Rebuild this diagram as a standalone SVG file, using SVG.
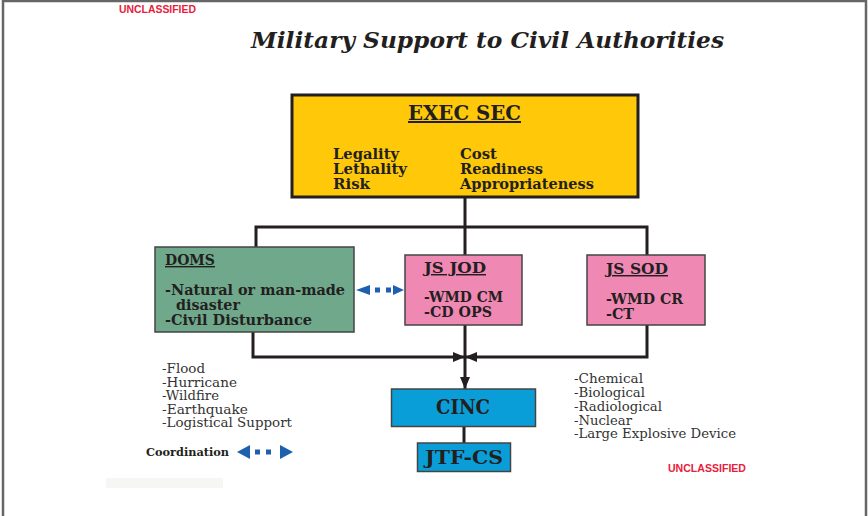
<svg xmlns="http://www.w3.org/2000/svg" width="868" height="516" viewBox="0 0 868 516">
<style>
.b{font-family:"DejaVu Serif","Liberation Serif",serif;font-weight:bold;fill:#231f20}
.r{font-family:"DejaVu Serif","Liberation Serif",serif;fill:#333;font-size:12.2px}
.u{text-decoration:underline}
.cls{font-family:"Liberation Sans",Arial,sans-serif;font-weight:bold;font-size:10px;fill:#e8203c}
.ln{fill:none;stroke:#231f20;stroke-width:3}
.box{stroke:#444;stroke-width:1.5}
.blue{fill:#1f5fb0}
</style>
<defs>
<marker id="ah" viewBox="0 0 12 10" refX="12" refY="5" markerWidth="12" markerHeight="10" markerUnits="userSpaceOnUse" orient="auto">
<path d="M0,0 L12,5 L0,10 Z" fill="#231f20"/>
</marker>
</defs>
<rect x="0" y="0" width="868" height="516" fill="#fff"/>
<path d="M3,516 V1 H866 V516" fill="none" stroke="#666" stroke-width="2.5"/>
<rect x="106" y="478" width="117" height="10" fill="#f6f6f4"/>
<text class="cls" x="119" y="13" textLength="77" lengthAdjust="spacingAndGlyphs">UNCLASSIFIED</text>
<text class="cls" x="668" y="472" textLength="78" lengthAdjust="spacingAndGlyphs">UNCLASSIFIED</text>
<text class="b" x="251" y="48" font-size="22" font-style="italic" textLength="473" lengthAdjust="spacingAndGlyphs">Military Support to Civil Authorities</text>

<g id="connectors">
<path class="ln" d="M465,197 V227 M256,247 V227 H647 V255 M465,227 V255"/>
<path class="ln" d="M253,332 V357 H465" marker-end="url(#ah)"/>
<path class="ln" d="M647,325 V357 H465" marker-end="url(#ah)"/>
<path class="ln" d="M465,325 V389" marker-end="url(#ah)"/>
<path class="ln" d="M464,426 V443"/>
</g>

<g id="exec-sec">
<rect x="292" y="95" width="346" height="102" fill="#ffc90a" stroke="#231f20" stroke-width="3"/>
<text class="b u" x="408" y="120" font-size="20" textLength="113" lengthAdjust="spacingAndGlyphs">EXEC SEC</text>
<text class="b" x="333" y="159" font-size="14" textLength="66" lengthAdjust="spacingAndGlyphs">Legality</text>
<text class="b" x="333" y="174" font-size="14" textLength="74" lengthAdjust="spacingAndGlyphs">Lethality</text>
<text class="b" x="333" y="189" font-size="14" textLength="37" lengthAdjust="spacingAndGlyphs">Risk</text>
<text class="b" x="460" y="159" font-size="14" textLength="37" lengthAdjust="spacingAndGlyphs">Cost</text>
<text class="b" x="460" y="174" font-size="14" textLength="83" lengthAdjust="spacingAndGlyphs">Readiness</text>
<text class="b" x="460" y="189" font-size="14" textLength="134" lengthAdjust="spacingAndGlyphs">Appropriateness</text>
</g>

<g id="doms">
<rect class="box" x="155" y="247" width="199" height="85" fill="#70a88c"/>
<text class="b u" x="165" y="265" font-size="14" textLength="50" lengthAdjust="spacingAndGlyphs">DOMS</text>
<text class="b" x="165" y="295" font-size="14" textLength="180" lengthAdjust="spacingAndGlyphs">-Natural or man-made</text>
<text class="b" x="176" y="310" font-size="14" textLength="64" lengthAdjust="spacingAndGlyphs">disaster</text>
<text class="b" x="165" y="325" font-size="14" textLength="147" lengthAdjust="spacingAndGlyphs">-Civil Disturbance</text>
</g>

<g id="coord-arrow-doms-jod">
<path class="blue" d="M356,290 L370,285 L370,295 Z"/>
<rect class="blue" x="375" y="287.5" width="5" height="5"/>
<rect class="blue" x="386" y="287.5" width="5" height="5"/>
<path class="blue" d="M404,290 L393,285 L393,295 Z"/>
</g>

<g id="js-jod">
<rect class="box" x="405" y="255" width="117" height="70" fill="#f088b4"/>
<text class="b u" x="424" y="273" font-size="14.5" textLength="62" lengthAdjust="spacingAndGlyphs">JS JOD</text>
<text class="b" x="424" y="302" font-size="14" textLength="79" lengthAdjust="spacingAndGlyphs">-WMD CM</text>
<text class="b" x="424" y="317" font-size="14" textLength="68" lengthAdjust="spacingAndGlyphs">-CD OPS</text>
</g>

<g id="js-sod">
<rect class="box" x="587" y="255" width="118" height="70" fill="#f088b4"/>
<text class="b u" x="606" y="274" font-size="14.5" textLength="62" lengthAdjust="spacingAndGlyphs">JS SOD</text>
<text class="b" x="606" y="304" font-size="14" textLength="77" lengthAdjust="spacingAndGlyphs">-WMD CR</text>
<text class="b" x="606" y="319" font-size="14" textLength="28" lengthAdjust="spacingAndGlyphs">-CT</text>
</g>

<g id="cinc">
<rect class="box" x="391.5" y="389" width="144" height="37.5" fill="#0a9ed8"/>
<text class="b" x="436" y="414" font-size="20" textLength="54" lengthAdjust="spacingAndGlyphs">CINC</text>
</g>

<g id="jtf-cs">
<rect class="box" x="417.5" y="443" width="93" height="28.5" fill="#0a9ed8"/>
<text class="b" x="425" y="464" font-size="19" textLength="78" lengthAdjust="spacingAndGlyphs">JTF-CS</text>
</g>

<g id="natural-list">
<text class="r" x="162" y="373" textLength="43" lengthAdjust="spacingAndGlyphs">-Flood</text>
<text class="r" x="162" y="386.5" textLength="75" lengthAdjust="spacingAndGlyphs">-Hurricane</text>
<text class="r" x="162" y="400" textLength="57" lengthAdjust="spacingAndGlyphs">-Wildfire</text>
<text class="r" x="162" y="413.5" textLength="86" lengthAdjust="spacingAndGlyphs">-Earthquake</text>
<text class="r" x="162" y="427" textLength="130" lengthAdjust="spacingAndGlyphs">-Logistical Support</text>
</g>

<g id="wmd-list">
<text class="r" x="574" y="383" textLength="69" lengthAdjust="spacingAndGlyphs">-Chemical</text>
<text class="r" x="574" y="397" textLength="71" lengthAdjust="spacingAndGlyphs">-Biological</text>
<text class="r" x="574" y="411" textLength="88" lengthAdjust="spacingAndGlyphs">-Radiological</text>
<text class="r" x="574" y="424.5" textLength="58" lengthAdjust="spacingAndGlyphs">-Nuclear</text>
<text class="r" x="574" y="438" textLength="162" lengthAdjust="spacingAndGlyphs">-Large Explosive Device</text>
</g>

<g id="legend">
<text class="b" x="146" y="456" font-size="11" textLength="83" lengthAdjust="spacingAndGlyphs">Coordination</text>
<path class="blue" d="M237,452 L250,445 L250,459 Z"/>
<rect class="blue" x="255" y="449.5" width="5" height="5"/>
<rect class="blue" x="266" y="449.5" width="5" height="5"/>
<path class="blue" d="M293,452 L280,445 L280,459 Z"/>
</g>
</svg>
